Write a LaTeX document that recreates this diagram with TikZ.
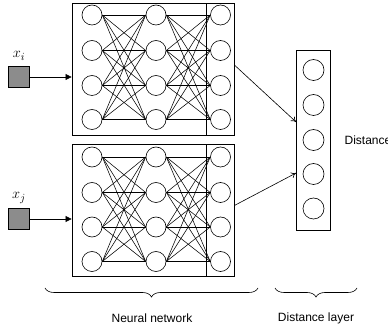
\documentclass[tikz,border=0pt]{standalone}
\usepackage{fontspec}
\setmainfont{Liberation Sans}
\usetikzlibrary{%
  calc,arrows.meta,shapes,%
  decorations.pathreplacing}
\tikzset {>=Stealth}
\definecolor{sqgray}{RGB}{140,140,140}
\tikzset{
  unit/.style={circle,draw,inner sep=0pt,minimum size=20pt},
  box/.style={draw,line width=.8pt,inner sep=0pt},
  link/.style={line width=.55pt},
  brc/.style={decorate,decoration={brace,mirror,amplitude=9pt},line width=.6pt}}

\begin{document}
\begin{tikzpicture}[x=1pt,y=-1pt,line width=.6pt,font=\fontsize{12}{14}\selectfont]
\useasboundingbox (0,0) rectangle (388,328);
% the two networks
\node[box,minimum width=162pt,minimum height=132pt] (nnA) at (153,69) {};
\node[box,minimum width=28pt,minimum height=132pt] (outA) at (220,69) {};
\node[box,minimum width=162pt,minimum height=132pt] (nnB) at (153,210.5) {};
\node[box,minimum width=28pt,minimum height=132pt] (outB) at (220,210.5) {};
\foreach \n/\y in {1/15,2/50.5,3/85.5,4/119.5}
  \foreach \c/\x in {1/92,2/156,3/220.5}
    \node[unit] (a\n\c) at (\x,\y) {};
\foreach \n/\y in {1/157,2/192.5,3/227,4/261.5}
  \foreach \c/\x in {1/92,2/156,3/220.5}
    \node[unit] (b\n\c) at (\x,\y) {};
\foreach \n in {1,2,3,4}
  \foreach \m in {1,2,3,4} {
    \draw[link] (a\n1.east) -- (a\m2.west);
    \draw[link] (a\n2.east) -- (a\m3.west);
    \draw[link] (b\n1.east) -- (b\m2.west);
    \draw[link] (b\n2.east) -- (b\m3.west);
  }
% inputs
\node[draw,fill=sqgray,minimum size=21pt,inner sep=0pt] (inA) at (19,77) {};
\node[draw,fill=sqgray,minimum size=21pt,inner sep=0pt] (inB) at (19,219) {};
\node[font=\fontsize{15}{18}\selectfont] (lA) at (19,56) {$x_i$};
\node[font=\fontsize{15}{18}\selectfont] (lB) at (19,198) {$x_j$};
\draw[-{Triangle[length=6pt,width=6pt]}] (inA) -- (inA -| nnA.west);
\draw[-{Triangle[length=6pt,width=6pt]}] (inB) -- (inB -| nnB.west);
% distance layer
\node[box,minimum width=34pt,minimum height=180pt] (dist) at (313.5,140) {};
\foreach \n/\y in {1/70,2/105,3/140,4/174,5/208.5}
  \node[unit,minimum size=21pt] (d\n) at (313.5,\y) {};
\node[anchor=west] (dtxt) at (341,140) {Distance};
\draw[-{To[length=5pt,width=6pt]}] ([yshift=4pt]outA.east) -- ([yshift=18pt]dist.west);
\draw[-{To[length=5pt,width=6pt]}] ([yshift=5pt]outB.east) -- ([yshift=-33pt]dist.west);
% braces
\coordinate (bl1) at (45,288);
\coordinate (br1) at (258,288);
\coordinate (bl2) at (275,288);
\coordinate (br2) at (357,288);
\draw[brc] (bl1) -- (br1);
\draw[brc] (bl2) -- (br2);
\node (t1) at (152,318) {Neural network};
\node (t2) at (316,318) {Distance layer};
\end{tikzpicture}
\end{document}
